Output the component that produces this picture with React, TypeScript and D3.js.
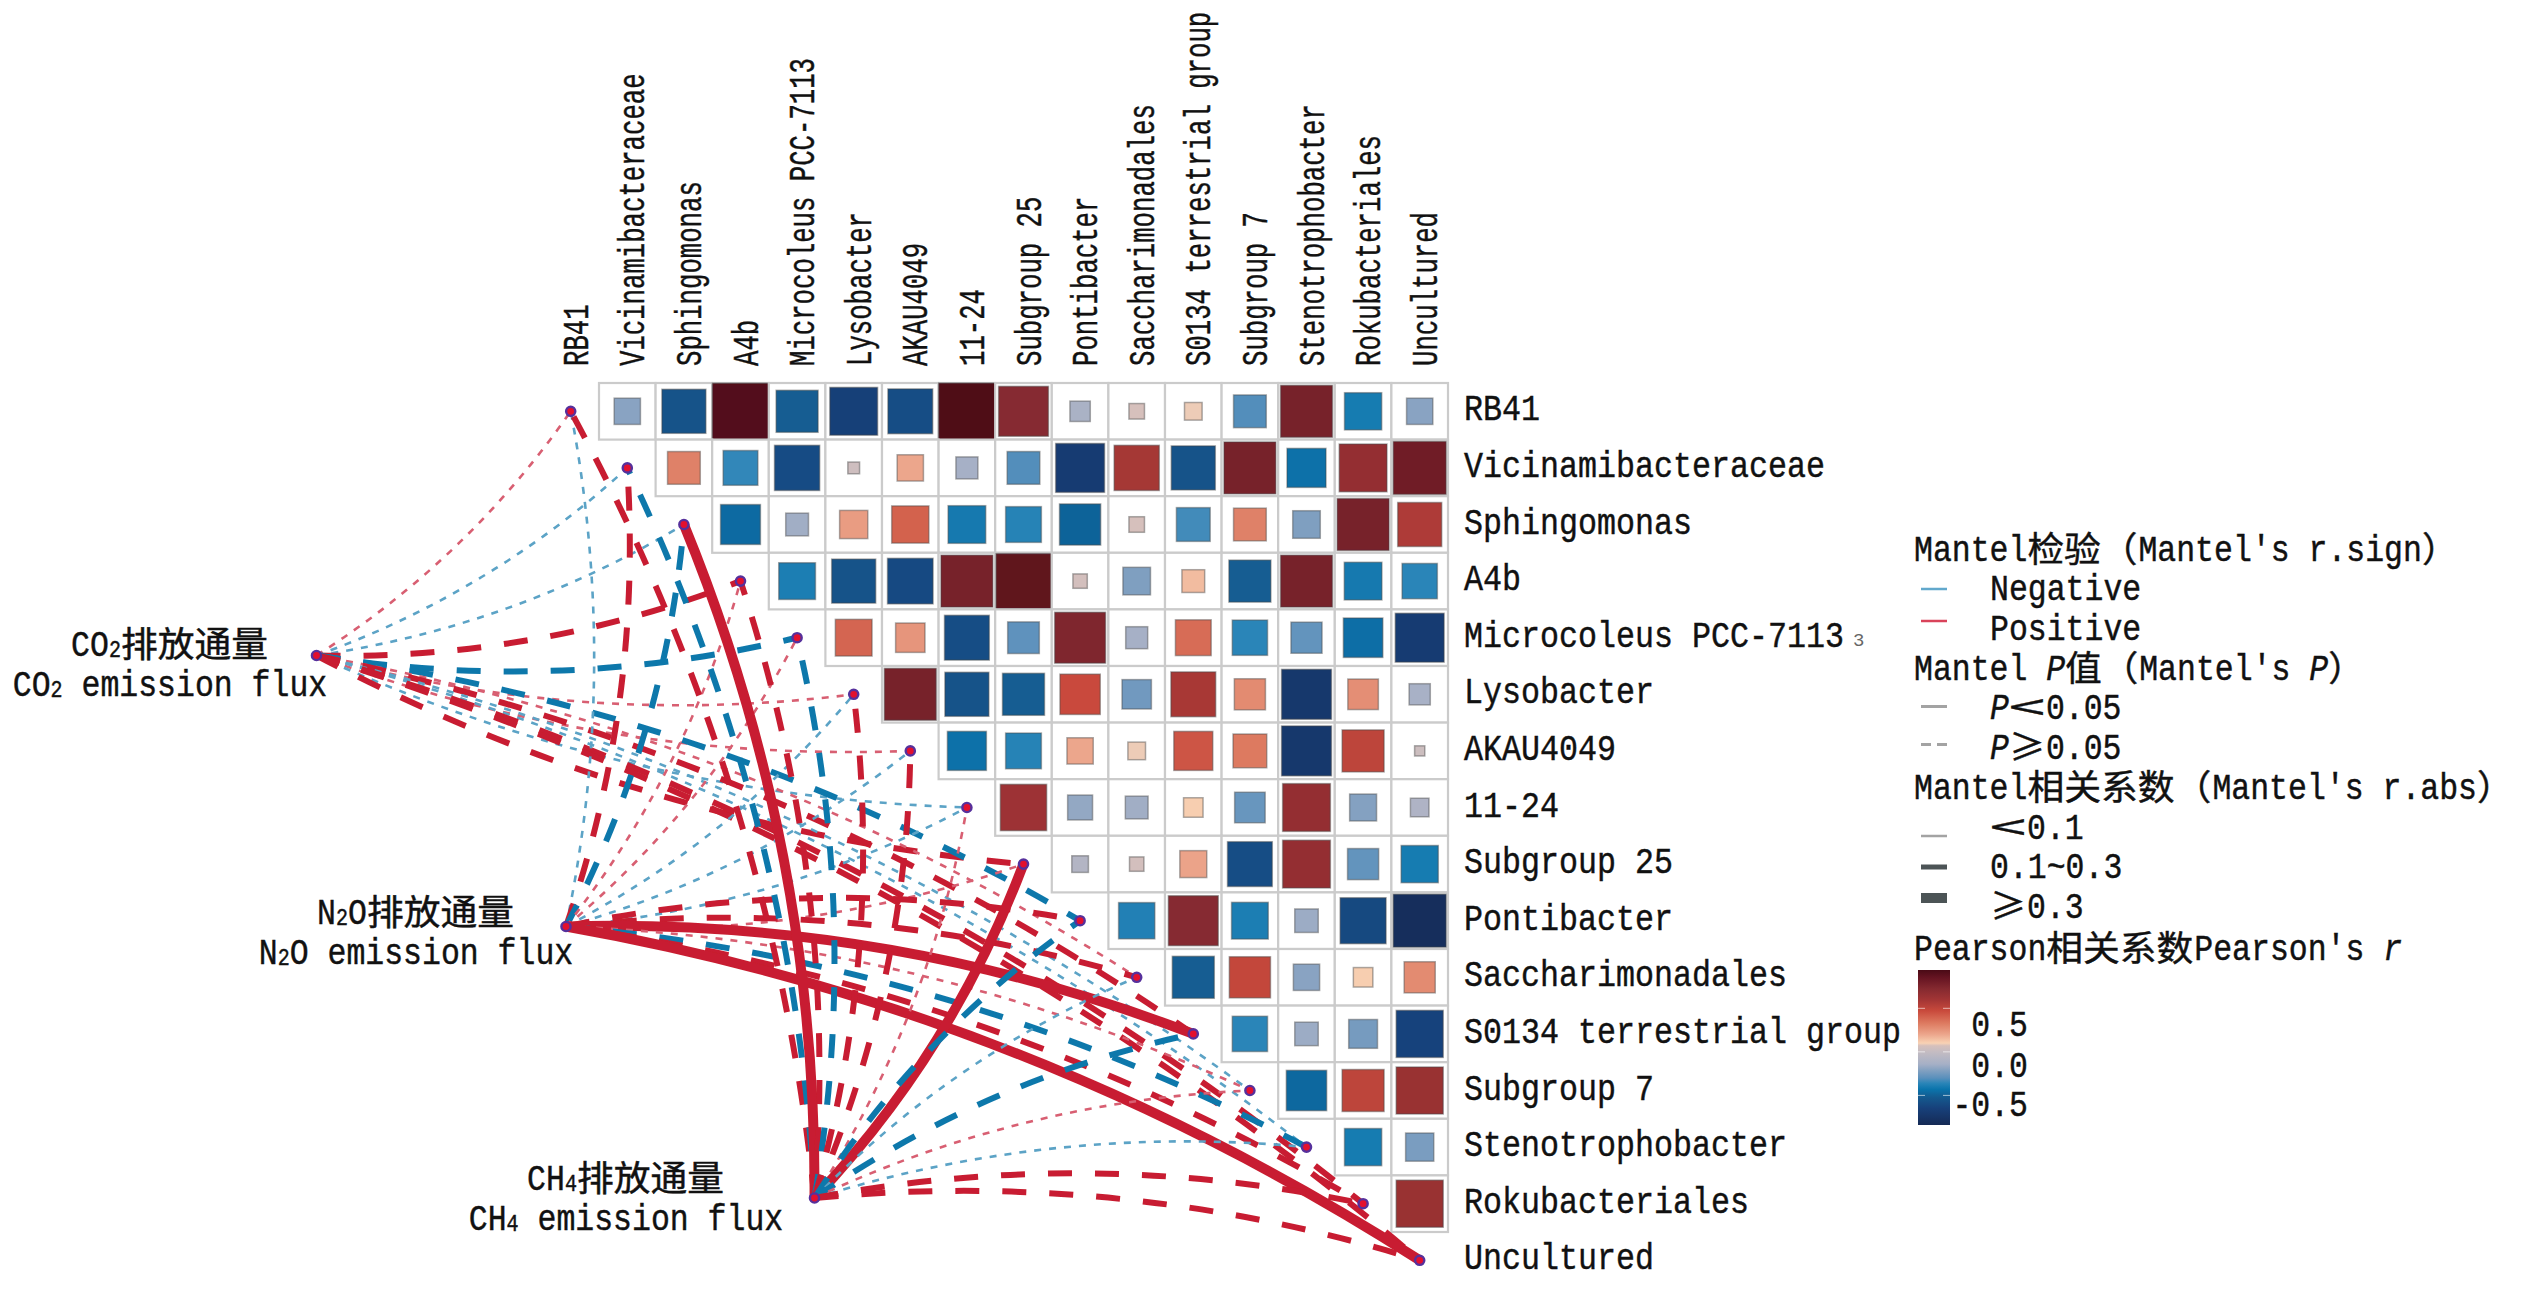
import React from "react";
import * as d3 from "d3";

const taxa = ["RB41","Vicinamibacteraceae","Sphingomonas","A4b","Microcoleus PCC-7113","Lysobacter","AKAU4049","11-24","Subgroup 25","Pontibacter","Saccharimonadales","S0134 terrestrial group","Subgroup 7","Stenotrophobacter","Rokubacteriales","Uncultured"];

// Pearson r, upper triangle, each row begins right of the diagonal
const rRB41 = [-0.2,-0.56,0.91,-0.51,-0.66,-0.58,0.92,0.72,-0.12,0.07,0.09,-0.31,0.78,-0.4,-0.2];
const rVicin = [0.31,-0.35,-0.59,0.04,0.2,-0.14,-0.31,-0.69,0.59,-0.56,0.78,-0.44,0.66,0.81];
const rSphin = [-0.46,-0.15,0.23,0.4,-0.41,-0.37,-0.49,0.07,-0.33,0.31,-0.22,0.78,0.56];
const rA4b = [-0.39,-0.56,-0.6,0.78,0.87,0.06,-0.22,0.15,-0.51,0.78,-0.41,-0.36];
const rMicro = [0.39,0.25,-0.58,-0.29,0.75,-0.14,0.37,-0.36,-0.28,-0.45,-0.69];
const rLyso = [0.78,-0.56,-0.51,0.47,-0.25,0.58,0.28,-0.72,0.27,-0.13];
const rAKAU = [-0.44,-0.37,0.2,0.09,0.44,0.33,-0.72,0.51,0.03];
const r1124 = [0.62,-0.18,-0.15,0.11,-0.27,0.66,-0.21,-0.1];
const rSub25 = [-0.08,0.06,0.21,-0.58,0.66,-0.28,-0.4];
const rPonti = [-0.38,0.72,-0.39,-0.16,-0.61,-0.81];
const rSacch = [-0.51,0.49,-0.2,0.11,0.28];
const rS0134 = [-0.36,-0.16,-0.24,-0.64];
const rSub7 = [-0.47,0.51,0.64];
const rSteno = [-0.4,-0.23];
const rRoku = [0.64];
const rRows = [rRB41,rVicin,rSphin,rA4b,rMicro,rLyso,rAKAU,r1124,rSub25,rPonti,rSacch,rS0134,rSub7,rSteno,rRoku];

// Mantel links: sign + class. T thin dashed (<0.1), M medium dashed (0.1~0.3), S thick solid (>=0.3)
const co2Links = ["T+","T-","T-","M+","M-","T+","T+","T-","M+","M-","T+","M+","T-","T-","M+","M+"];
const n2oLinks = ["T-","M+","M-","T+","T+","T-","T-","T-","T+","M+","M+","S+","T+","M-","M+","S+"];
const ch4Links = ["M+","M-","S+","M+","M-","M+","M+","T+","S+","M-","T-","M-","T+","T-","M+","M+"];

const sources = [
  { key: "co2", x: 316.5, y: 655.5, links: co2Links, lx: 170, l1y: 644, l2y: 684, l1: "CO_2排放通量", l2: "CO_2 emission flux" },
  { key: "n2o", x: 566, y: 926.5, links: n2oLinks, lx: 416, l1y: 912, l2y: 952, l1: "N_2O排放通量", l2: "N_2O emission flux" },
  { key: "ch4", x: 814.5, y: 1198, links: ch4Links, lx: 626, l1y: 1178, l2y: 1218, l1: "CH_4排放通量", l2: "CH_4 emission flux" },
];

const colorStops: [number, string][] = [
  [-0.84,"#152a55"],[-0.65,"#17407a"],[-0.52,"#145a8f"],[-0.43,"#0a74ac"],[-0.36,"#2a85b8"],[-0.3,"#5a90bc"],[-0.22,"#7f9fc0"],[-0.14,"#a6b0c6"],[0,"#c4bcc2"],[0.07,"#d6c0bc"],[0.1,"#f8d2b4"],[0.2,"#eca68c"],[0.33,"#dd7a60"],[0.47,"#c94a3c"],[0.6,"#a23535"],[0.72,"#862a30"],[0.85,"#661422"],[0.94,"#4a0a16"],
];

const legendGroups = [
  { y: 549, title: "Mantel检验（Mantel's r.sign）" },
  { y: 668, title: "Mantel *P*值（Mantel's *P*）" },
  { y: 787, title: "Mantel相关系数（Mantel's r.abs）" },
  { y: 948, title: "Pearson相关系数Pearson's *r*" },
];
const legendKeys = [
  { y: 589, ty: 588, label: "Negative", color: "#62a8cc", w: 2.5, dash: "" },
  { y: 621, ty: 628, label: "Positive", color: "#d9435a", w: 2.5, dash: "" },
  { y: 706.5, ty: 707, label: "*P*<0.05", color: "#a3a3a3", w: 3, dash: "" },
  { y: 744.5, ty: 747, label: "*P*≥0.05", color: "#a3a3a3", w: 3, dash: "10 6" },
  { y: 836, ty: 827, label: "<0.1", color: "#a3a3a3", w: 2.5, dash: "" },
  { y: 867, ty: 866, label: "0.1~0.3", color: "#4c5456", w: 5, dash: "" },
  { y: 898, ty: 906, label: "≥0.3", color: "#4c5456", w: 10, dash: "" },
];
const barTicks = [0.5, 0, -0.5];
const barLabels = ["0.5", "0.0", "-0.5"];
const barLabelY = [1024, 1065, 1104];

const CELL = 56.6;
const x = d3.scaleBand<string>().domain(taxa).range([599 - CELL, 599 + 15 * CELL]);
const y = d3.scaleBand<string>().domain(taxa).range([383, 383 + 16 * CELL]);
const side = d3.scaleSqrt().domain([0, 0.94]).range([0, 57]);
const color = d3.scaleLinear<string>().domain(colorStops.map(d => d[0])).range(colorStops.map(d => d[1])).interpolate(d3.interpolateRgb);
const barY = d3.scaleLinear().domain([-0.84, 0.94]).range([1125, 970]);
const cx = (t: string) => (x(t) as number) + CELL / 2;
const cy = (t: string) => (y(t) as number) + CELL / 2;

const LATIN = "'Liberation Mono', monospace";
const CJK = "'Noto Sans CJK SC', sans-serif";
const ADV = 18.9;
const INK = { fill: "#111", stroke: "#111", strokeWidth: 0.45 };

type Run = { t: string; kind: "latin" | "cjk" | "sub"; italic: boolean; w: number };
function parseRuns(s: string): Run[] {
  const runs: Run[] = [];
  let italic = false, i = 0;
  const push = (t: string, kind: Run["kind"]) => {
    const last = runs[runs.length - 1];
    const w = kind === "latin" ? ADV : kind === "cjk" ? 37 : 12;
    if (last && last.kind === kind && last.italic === italic) { last.t += t; last.w += w; }
    else runs.push({ t, kind, italic, w });
  };
  while (i < s.length) {
    const c = s[i];
    if (c === "*") { italic = !italic; i++; continue; }
    if (c === "_") { push(s[i + 1], "sub"); i += 2; continue; }
    push(c, /[\u2E80-\uFFEF≥<]/.test(c) ? "cjk" : "latin");
    i++;
  }
  return runs;
}

function Mixed({ s, x0, yc, anchor = "start" }: { s: string; x0: number; yc: number; anchor?: string }) {
  const runs = parseRuns(s);
  const total = d3.sum(runs, r => r.w);
  let px = anchor === "middle" ? x0 - total / 2 : x0;
  return (
    <g {...INK}>
      {runs.map((r, i) => {
        const at = px;
        px += r.w;
        if (r.kind === "cjk")
          return <text key={i} x={at} y={yc + 13} fontFamily={CJK} fontSize={35} textLength={r.w - 1} lengthAdjust="spacingAndGlyphs" fontStyle={r.italic ? "italic" : "normal"}>{r.t}</text>;
        if (r.kind === "sub")
          return <text key={i} x={at} y={yc + 13} fontFamily={LATIN} fontSize={24} textLength={r.w} lengthAdjust="spacingAndGlyphs">{r.t}</text>;
        return <text key={i} x={at} y={yc + 12} fontFamily={LATIN} fontSize={37} textLength={r.w} lengthAdjust="spacingAndGlyphs" fontStyle={r.italic ? "italic" : "normal"} xmlSpace="preserve">{r.t}</text>;
      })}
    </g>
  );
}

function linkPath(x0: number, y0: number, x1: number, y1: number, sgn: number) {
  const dx = x1 - x0, dy = y1 - y0;
  const mx = (x0 + x1) / 2, my = (y0 + y1) / 2;
  const p = d3.path();
  p.moveTo(x0, y0);
  p.quadraticCurveTo(mx - dy * 0.1 * sgn, my + dx * 0.1 * sgn, x1, y1);
  return p.toString();
}

const linkStyle: Record<string, { w: number; dash: string }> = {
  T: { w: 2.6, dash: "7 8" },
  M: { w: 6, dash: "24 23" },
  S: { w: 10, dash: "" },
};
function linkColor(k: string, neg: boolean) {
  if (k === "T") return neg ? "#5ba3c6" : "#d85f72";
  return neg ? "#0f78ab" : "#c81f30";
}

export default function App() {
  return (
    <svg width={2531} height={1296} viewBox="0 0 2531 1296" style={{ position: "absolute", left: 0, top: 0, display: "block", background: "#fff" }}>
      <defs>
        <linearGradient id="bar" x1="0" x2="0" y1="1" y2="0">
          {colorStops.map(([v, c]) => (
            <stop key={v} offset={(v + 0.84) / 1.78} stopColor={c} />
          ))}
        </linearGradient>
        <filter id="soft" x="-5%" y="-5%" width="110%" height="110%">
          <feGaussianBlur stdDeviation="0.6" />
        </filter>
      </defs>

      {/* cells */}
      <g filter="url(#soft)">
        {rRows.map((row, i) =>
          row.map((r, k) => {
            const col = taxa[i + 1 + k];
            const rowName = taxa[i];
            const cxx = cx(col), cyy = cy(rowName);
            const s = side(Math.abs(r));
            return (
              <g key={`${i}-${k}`}>
                <rect x={x(col)} y={y(rowName)} width={CELL} height={CELL} fill="#fff" stroke="#cbcbcb" strokeWidth={2.2} />
                <rect x={cxx - s / 2} y={cyy - s / 2} width={s} height={s} fill={color(r)} stroke="#4a4a4a" strokeOpacity={0.45} strokeWidth={1.5} />
              </g>
            );
          })
        )}
      </g>

      {/* links */}
      <g fill="none" filter="url(#soft)">
        {sources.map(src =>
          src.links.map((l, i) => {
            const t = taxa[i];
            const st = linkStyle[l[0]];
            return (
              <path
                key={src.key + t}
                d={linkPath(src.x, src.y, cx(t), cy(t), i <= 8 ? 1 : -1)}
                stroke={linkColor(l[0], l[1] === "-")}
                strokeWidth={st.w}
                strokeDasharray={st.dash || undefined}
              />
            );
          })
        )}
      </g>

      {/* nodes */}
      <g fill="#e3102e" stroke="#56309c" strokeWidth={2.4}>
        {taxa.map(t => <circle key={t} cx={cx(t)} cy={cy(t)} r={4.6} />)}
        {sources.map(s => <circle key={s.key} cx={s.x} cy={s.y} r={4.6} />)}
      </g>

      {/* labels */}
      {taxa.map(t => (
        <text key={t} transform={`translate(${cx(t) + 17},366) rotate(-90)`} fontFamily={LATIN} fontSize={37} {...INK} textLength={t.length * 15.4} lengthAdjust="spacingAndGlyphs">{t}</text>
      ))}
      {taxa.map(t => (
        <text key={t} x={1464} y={cy(t) + 9} fontFamily={LATIN} fontSize={37} {...INK} textLength={t.length * 19} lengthAdjust="spacingAndGlyphs">{t}</text>
      ))}
      <text x={1853} y={646} fontFamily={LATIN} fontSize={19} fill="#666">3</text>

      {sources.map(s => (
        <g key={s.key}>
          <Mixed s={s.l1} x0={s.lx} yc={s.l1y} anchor="middle" />
          <Mixed s={s.l2} x0={s.lx} yc={s.l2y} anchor="middle" />
        </g>
      ))}

      {/* legend */}
      {legendGroups.map(g => <Mixed key={g.title} s={g.title} x0={1914} yc={g.y} />)}
      {legendKeys.map(k => (
        <g key={k.label}>
          <line x1={1921} x2={1947} y1={k.y} y2={k.y} stroke={k.color} strokeWidth={k.w} strokeDasharray={k.dash || undefined} />
          <Mixed s={k.label} x0={1990} yc={k.ty} />
        </g>
      ))}
      <rect x={1918} y={barY(0.94)} width={32} height={barY(-0.84) - barY(0.94)} fill="url(#bar)" />
      {barTicks.map(v => (
        <g key={v} stroke="#fff" strokeOpacity={0.6} strokeWidth={1}>
          <line x1={1918} x2={1925} y1={barY(v)} y2={barY(v)} />
          <line x1={1943} x2={1950} y1={barY(v)} y2={barY(v)} />
        </g>
      ))}
      {barLabels.map((l, i) => (
        <Mixed key={l} s={l} x0={2028 - l.length * ADV} yc={barLabelY[i]} />
      ))}
    </svg>
  );
}
